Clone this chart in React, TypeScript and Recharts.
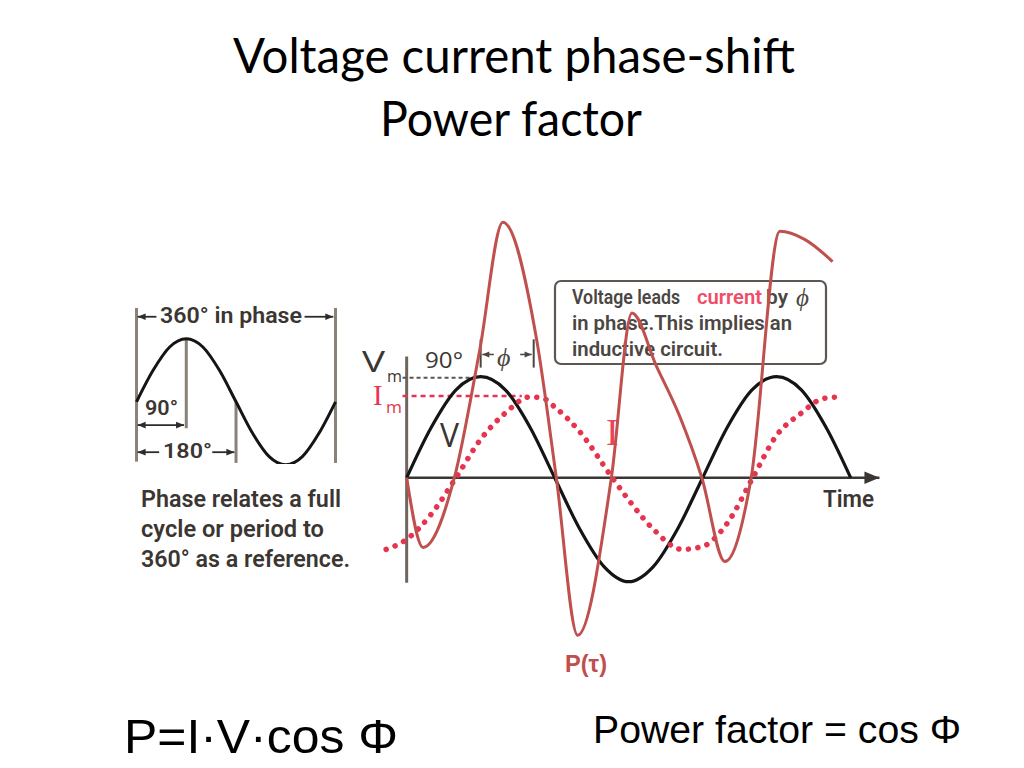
import React from "react";
import { ComposedChart, LineChart, Line, XAxis, YAxis, ReferenceLine } from "recharts";

// ---------- data ----------
// main chart: x in degrees, y in units of Vm
const V_DEG = [0, 30, 60, 90, 120, 150, 180, 210, 240, 270, 300, 330, 360, 390, 420, 450, 480, 510, 540];
const V_VAL = [0, 0.5, 0.87, 1, 0.87, 0.5, 0, -0.5, -0.88, -1.03, -0.88, -0.5, 0, 0.5, 0.87, 1, 0.87, 0.5, 0];

const I_DEG = [-25, 0, 30, 60, 90, 120, 150, 165, 180, 210, 250, 270, 300, 335, 360, 390, 421, 450, 480, 505, 525];
const I_VAL = [-0.71, -0.61, -0.36, 0, 0.38, 0.64, 0.8, 0.79, 0.7, 0.46, 0, -0.22, -0.51, -0.71, -0.68, -0.45, 0, 0.42, 0.64, 0.78, 0.8];

const P_DEG = [0, 20, 58, 89, 117, 158, 182, 208, 249, 274, 304, 332, 359, 387, 419, 454, 484, 518];
const P_VAL = [0, -0.69, 0, 1.27, 2.53, 1.37, 0, -1.56, 0, 1.63, 1.1, 0.61, 0, -0.83, 0, 2.44, 2.36, 2.14];

// left reference sine (one full cycle)
const L_DEG = [0, 30, 60, 90, 120, 150, 180, 210, 240, 270, 300, 330, 360];
const L_VAL = [0, 0.5, 0.87, 1, 0.87, 0.5, 0, -0.5, -0.87, -1, -0.87, -0.5, 0];

const TITLE_LINES = ["Voltage current phase-shift", "Power factor"];
const BOX_LINES = ["Voltage leads", "current", "by", "in phase.This  implies an", "inductive circuit."];
const LEFT_TEXT = ["Phase relates a full", "cycle or period to", "360°  as a reference."];

const vData = V_DEG.map((x, i) => ({ x, v: V_VAL[i] }));
const iData = I_DEG.map((x, i) => ({ x, i: I_VAL[i] }));
const pData = P_DEG.map((x, i) => ({ x, p: P_VAL[i] }));
const lData = L_DEG.map((x, i) => ({ x, s: L_VAL[i] }));

// ---------- layout ----------
const M_K = 296 / 360; // px per degree
const M_U = 101; // px per unit
const M_OX = 407;
const M_OY = 478;
const M_XD: [number, number] = [-30, 580];
const M_YD: [number, number] = [-1.7, 2.7];

const L_K = 199 / 360;
const L_U = 63;
const L_OX = 137;
const L_OY = 401.5;
const L_XD: [number, number] = [-10, 370];
const L_YD: [number, number] = [-1.0, 1.6];

const RED = "#c0504d";
const PINK = "#e6344f";
const INK = "#3b3632";
const BOXINK = "#4b4642";
const GRAYLINE = "#8a8177";

function arrowShape(o: { start?: boolean; end?: boolean; color: string; width: number; head?: number }) {
  return (p: any) => {
    const { x1, y1, x2, y2 } = p;
    const dx = x2 - x1;
    const dy = y2 - y1;
    const len = Math.hypot(dx, dy) || 1;
    const ux = dx / len;
    const uy = dy / len;
    const h = o.head ?? 8;
    const w = h * 0.42;
    const head = (tx: number, ty: number, a: number, b: number) =>
      `${tx},${ty} ${tx - a * h - b * w},${ty - b * h + a * w} ${tx - a * h + b * w},${ty - b * h - a * w}`;
    return (
      <g>
        <line x1={x1} y1={y1} x2={x2} y2={y2} stroke={o.color} strokeWidth={o.width} />
        {o.end && <polygon points={head(x2, y2, ux, uy)} fill={o.color} />}
        {o.start && <polygon points={head(x1, y1, -ux, -uy)} fill={o.color} />}
      </g>
    );
  };
}

function MainChart() {
  const left = M_OX + M_XD[0] * M_K;
  const top = M_OY - M_YD[1] * M_U;
  const width = (M_XD[1] - M_XD[0]) * M_K;
  const height = (M_YD[1] - M_YD[0]) * M_U;
  return (
    <div style={{ position: "absolute", left, top }}>
      <ComposedChart width={width} height={height} margin={{ top: 0, right: 0, bottom: 0, left: 0 }}>
        <XAxis type="number" dataKey="x" domain={M_XD} hide allowDataOverflow />
        <YAxis type="number" domain={M_YD} hide allowDataOverflow />
        <ReferenceLine segment={[{ x: 0, y: 1.2 }, { x: 0, y: -1.04 }]} stroke="#6e665e" strokeWidth={3} />
        <ReferenceLine
          segment={[{ x: 0, y: 0 }, { x: 575, y: 0 }]}
          shape={arrowShape({ end: true, color: "#3a3632", width: 2.5, head: 15 })}
        />
        <ReferenceLine segment={[{ x: -5, y: 0.99 }, { x: 80, y: 0.99 }]} stroke="#5a554f" strokeWidth={2} strokeDasharray="4 3" />
        <ReferenceLine segment={[{ x: -5, y: 0.81 }, { x: 140, y: 0.81 }]} stroke={PINK} strokeWidth={2.5} strokeDasharray="5 4" />
        {/* phi markers */}
        <ReferenceLine segment={[{ x: 90, y: 1.37 }, { x: 90, y: 1.09 }]} stroke="#4a4541" strokeWidth={2} />
        <ReferenceLine segment={[{ x: 154.5, y: 1.37 }, { x: 154.5, y: 1.09 }]} stroke="#4a4541" strokeWidth={2} />
        <ReferenceLine
          segment={[{ x: 106, y: 1.22 }, { x: 92, y: 1.22 }]}
          shape={arrowShape({ end: true, color: "#4a4541", width: 1.5, head: 7 })}
        />
        <ReferenceLine
          segment={[{ x: 138, y: 1.22 }, { x: 152, y: 1.22 }]}
          shape={arrowShape({ end: true, color: "#4a4541", width: 1.5, head: 7 })}
        />
        <Line data={vData} dataKey="v" type="monotone" stroke="#151515" strokeWidth={3.2} dot={false} isAnimationActive={false} />
        <Line
          data={iData}
          dataKey="i"
          type="monotone"
          stroke={PINK}
          strokeWidth={5.5}
          strokeDasharray="0.1 9.5"
          strokeLinecap="round"
          dot={false}
          isAnimationActive={false}
        />
        <Line data={pData} dataKey="p" type="monotone" stroke={RED} strokeWidth={3} dot={false} isAnimationActive={false} />
      </ComposedChart>
    </div>
  );
}

function LeftChart() {
  const left = L_OX + L_XD[0] * L_K;
  const top = L_OY - L_YD[1] * L_U;
  const width = (L_XD[1] - L_XD[0]) * L_K;
  const height = (L_YD[1] - L_YD[0]) * L_U;
  return (
    <div style={{ position: "absolute", left, top }}>
      <LineChart width={width} height={height} margin={{ top: 0, right: 0, bottom: 0, left: 0 }}>
        <XAxis type="number" dataKey="x" domain={L_XD} hide allowDataOverflow />
        <YAxis type="number" domain={L_YD} hide allowDataOverflow />
        <ReferenceLine segment={[{ x: 0, y: 1.49 }, { x: 0, y: -0.95 }]} stroke={GRAYLINE} strokeWidth={3} />
        <ReferenceLine segment={[{ x: 90, y: 1.0 }, { x: 90, y: -0.42 }]} stroke={GRAYLINE} strokeWidth={3} />
        <ReferenceLine segment={[{ x: 180, y: 0 }, { x: 180, y: -0.97 }]} stroke={GRAYLINE} strokeWidth={3} />
        <ReferenceLine segment={[{ x: 360, y: 1.49 }, { x: 360, y: -0.97 }]} stroke={GRAYLINE} strokeWidth={3} />
        <ReferenceLine segment={[{ x: 36, y: 1.35 }, { x: 2, y: 1.35 }]} shape={arrowShape({ end: true, color: "#2e2b28", width: 1.8, head: 8 })} />
        <ReferenceLine segment={[{ x: 304, y: 1.35 }, { x: 356, y: 1.35 }]} shape={arrowShape({ end: true, color: "#2e2b28", width: 1.8, head: 8 })} />
        <ReferenceLine segment={[{ x: 2, y: -0.37 }, { x: 86, y: -0.37 }]} shape={arrowShape({ start: true, end: true, color: "#2e2b28", width: 1.8, head: 8 })} />
        <ReferenceLine segment={[{ x: 41, y: -0.8 }, { x: 2, y: -0.8 }]} shape={arrowShape({ end: true, color: "#2e2b28", width: 1.8, head: 8 })} />
        <ReferenceLine segment={[{ x: 137, y: -0.8 }, { x: 177, y: -0.8 }]} shape={arrowShape({ end: true, color: "#2e2b28", width: 1.8, head: 8 })} />
        <Line data={lData} dataKey="s" type="monotone" stroke="#151515" strokeWidth={3} dot={false} isAnimationActive={false} />
      </LineChart>
    </div>
  );
}

const SANS = "'Open Sans', 'Noto Sans', sans-serif";
const MYRIAD = "Roboto, 'Open Sans', sans-serif";
const ARIAL = "'Liberation Sans', Arial, sans-serif";
const SERIF = "'Liberation Serif', 'DejaVu Serif', serif";

function Texts() {
  const t = (s: string, x: number, y: number, size: number, opts: any = {}) => (
    <text
      x={x}
      y={y}
      fontSize={size}
      fontFamily={opts.family ?? MYRIAD}
      fontWeight={opts.weight ?? 600}
      fontStyle={opts.style}
      fill={opts.fill ?? INK}
      textLength={opts.len}
      lengthAdjust={opts.len ? "spacingAndGlyphs" : undefined}
    >
      {s}
    </text>
  );
  return (
    <svg width={1024} height={768} style={{ position: "absolute", left: 0, top: 0 }}>
      {/* titles */}
      {t(TITLE_LINES[0], 233, 73, 48, { family: "Lato, 'Open Sans', sans-serif", weight: 400, fill: "#000", len: 562 })}
      {t(TITLE_LINES[1], 380, 136, 48, { family: "Lato, 'Open Sans', sans-serif", weight: 400, fill: "#000", len: 262 })}

      {/* left diagram */}
      {t("360° in phase", 160, 323, 22, { len: 142 })}
      {t("90°", 145, 415, 20, { len: 33 })}
      {t("180°", 163, 458, 20, { len: 49 })}
      {t(LEFT_TEXT[0], 141, 507, 23, { len: 200 })}
      {t(LEFT_TEXT[1], 141, 537, 23, { len: 183 })}
      {t(LEFT_TEXT[2], 141, 567, 23, { len: 209 })}

      {/* text box */}
      <rect x={555} y={281} width={271} height={83} rx={6} ry={6} fill="#fff" stroke="#5e5751" strokeWidth={2.2} />
      <text y={304} fontSize={20.5} fontFamily={MYRIAD} fontWeight={600} fill={BOXINK}>
        <tspan x={572} textLength={108} lengthAdjust="spacingAndGlyphs">{BOX_LINES[0]}</tspan>
        <tspan x={697} fill="#ef4d67" textLength={65} lengthAdjust="spacingAndGlyphs">{BOX_LINES[1]}</tspan>
        <tspan x={766} textLength={22} lengthAdjust="spacingAndGlyphs">{BOX_LINES[2]}</tspan>
        <tspan x={796} y={306} fontSize={25} fontFamily={SERIF} fontStyle="italic" fontWeight={400}>ϕ</tspan>
      </text>
      {t(BOX_LINES[3], 572, 330, 20.5, { len: 220, fill: BOXINK })}
      {t(BOX_LINES[4], 572, 356, 20.5, { len: 151, fill: BOXINK })}

      {/* main chart labels: Vm / Im */}
      <text fontFamily={SANS} fontWeight={400} fill={INK}>
        <tspan x={362} y={372} fontSize={29} textLength={23} lengthAdjust="spacingAndGlyphs">V</tspan>
        <tspan x={387} y={382} fontSize={17} textLength={15} lengthAdjust="spacingAndGlyphs">m</tspan>
        <tspan x={373} y={405} fontSize={28.5} fontFamily={SERIF} fill={PINK}>I</tspan>
        <tspan x={386} y={413} fontSize={17} fill={PINK} textLength={16} lengthAdjust="spacingAndGlyphs">m</tspan>
      </text>
      {t("90°", 425, 368, 22, { family: SANS, weight: 400, len: 38 })}
      {t("ϕ", 497, 366, 26, { family: SERIF, style: "italic", weight: 400, fill: "#4a4541" })}
      {t("V", 440, 447, 33, { family: SANS, weight: 400, len: 19 })}
      {t("I", 606, 445, 38, { family: SERIF, weight: 400, fill: "#e8455a" })}
      {t("Time", 823, 507, 23, { len: 51 })}
      {t("P(τ)", 565, 672, 23, { family: ARIAL, weight: 700, fill: RED, len: 42 })}

      {/* formulas */}
      {t("P=I·V·cos Φ", 124, 753, 49, { family: ARIAL, weight: 400, fill: "#000", len: 274 })}
      {t("Power factor = cos Φ", 593, 743, 39.5, { family: ARIAL, weight: 400, fill: "#000", len: 368 })}
    </svg>
  );
}

export default function App() {
  return (
    <div style={{ position: "absolute", left: 0, top: 0, width: 1024, height: 768, background: "#fff", overflow: "hidden" }}>
      <Texts />
      <LeftChart />
      <MainChart />
    </div>
  );
}
